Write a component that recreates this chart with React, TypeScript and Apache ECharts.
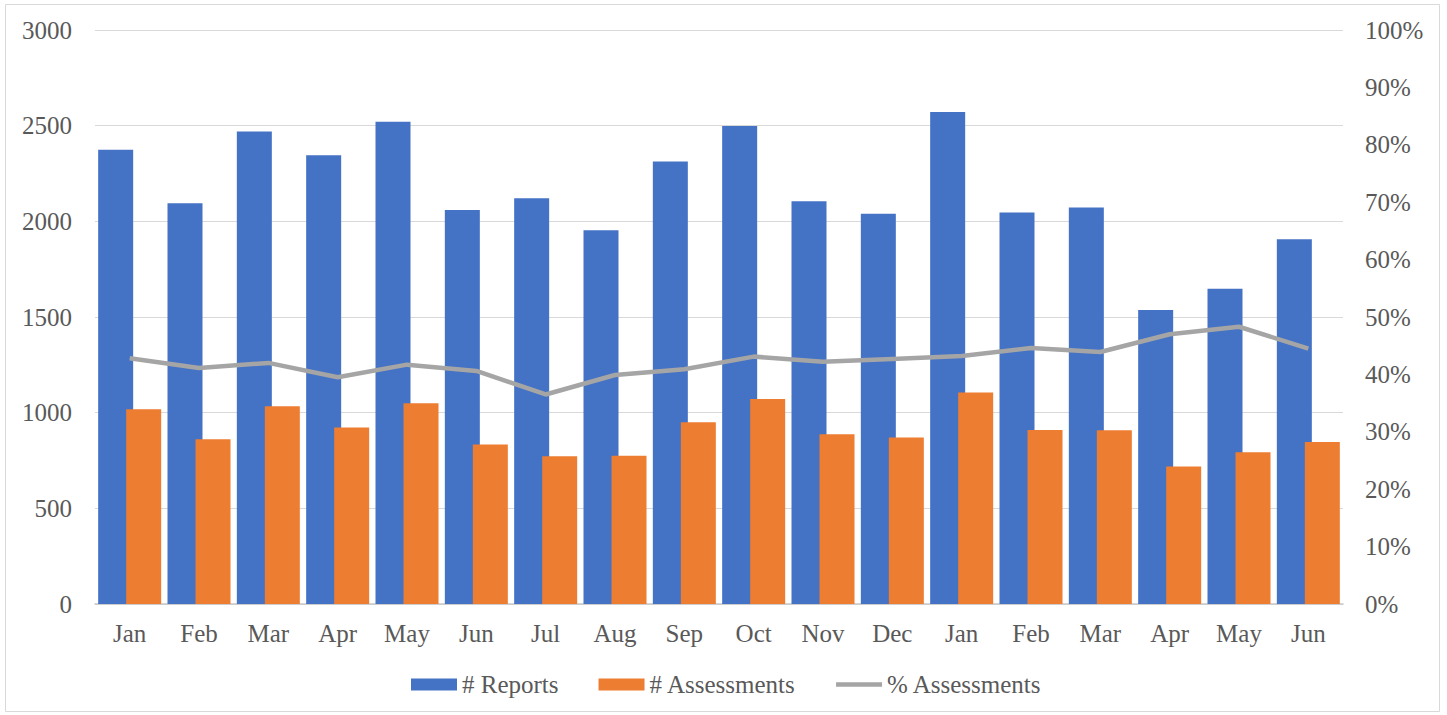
import React, { useEffect, useRef } from "react";
import * as echarts from "echarts";

const months = ["Jan", "Feb", "Mar", "Apr", "May", "Jun", "Jul", "Aug", "Sep", "Oct", "Nov", "Dec", "Jan", "Feb", "Mar", "Apr", "May", "Jun"];
const reports = [2374, 2094, 2470, 2345, 2521, 2059, 2120, 1953, 2313, 2498, 2105, 2039, 2572, 2046, 2072, 1537, 1648, 1906];
const assessments = [1018, 861, 1034, 922, 1049, 833, 772, 775, 950, 1071, 887, 870, 1106, 910, 908, 718, 793, 847];
const pctAssessments = [0.428, 0.411, 0.42, 0.395, 0.417, 0.406, 0.365, 0.399, 0.409, 0.431, 0.422, 0.427, 0.432, 0.446, 0.439, 0.47, 0.483, 0.445];
const leftTicks = { min: 0, max: 3000, interval: 500 };
const rightTicks = { min: 0, max: 1, interval: 0.1 };

const FONT = "Liberation Serif";
const LABEL_COLOR = "#595959";
const FS = 25;

export default function App() {
  const ref = useRef<HTMLDivElement>(null);
  useEffect(() => {
    if (!ref.current) return;
    const chart = echarts.init(ref.current, undefined, { renderer: "svg" });
    chart.setOption({
      animation: false,
      backgroundColor: "#ffffff",
      textStyle: { fontFamily: FONT, color: LABEL_COLOR },
      grid: { left: 95, right: 104, top: 30, bottom: 111, containLabel: false },
      graphic: [
        {
          type: "rect",
          shape: { x: 5.5, y: 4.5, width: 1434, height: 707 },
          style: { fill: "none", stroke: "#d9d9d9", lineWidth: 1 },
          silent: true,
        },
      ],
      legend: {
        top: 672,
        left: 411,
        padding: 0,
        itemWidth: 46,
        itemHeight: 12,
        itemGap: 40,
        textStyle: { fontFamily: FONT, fontSize: FS, color: LABEL_COLOR },
        data: [
          { name: "# Reports", icon: "rect" },
          { name: "# Assessments", icon: "rect" },
          { name: "% Assessments", icon: "path://M0,0 L46,0 L46,4.5 L0,4.5 Z" },
        ],
      },
      xAxis: {
        type: "category",
        data: months,
        axisTick: { show: false },
        axisLine: { show: true, lineStyle: { color: "#c8c8c8", width: 1.5 } },
        axisLabel: { fontFamily: FONT, fontSize: FS, color: LABEL_COLOR, margin: 17, interval: 0 },
      },
      yAxis: [
        {
          type: "value",
          min: leftTicks.min,
          max: leftTicks.max,
          interval: leftTicks.interval,
          axisLine: { show: false },
          axisTick: { show: false },
          splitLine: { show: true, lineStyle: { color: "#d9d9d9", width: 1 } },
          axisLabel: {
            fontFamily: FONT,
            fontSize: FS,
            color: LABEL_COLOR,
            margin: 23,
            formatter: (v: number) => String(v),
          },
        },
        {
          type: "value",
          min: rightTicks.min,
          max: rightTicks.max,
          interval: rightTicks.interval,
          position: "right",
          axisLine: { show: false },
          axisTick: { show: false },
          splitLine: { show: false },
          axisLabel: {
            fontFamily: FONT,
            fontSize: FS,
            color: LABEL_COLOR,
            margin: 22,
            formatter: (v: number) => `${Math.round(v * 100)}%`,
          },
        },
      ],
      series: [
        {
          name: "# Reports",
          type: "bar",
          data: reports,
          barWidth: 35,
          barGap: "-20%",
          itemStyle: { color: "#4472C4" },
          yAxisIndex: 0,
        },
        {
          name: "# Assessments",
          type: "bar",
          data: assessments,
          barWidth: 35,
          barGap: "-20%",
          itemStyle: { color: "#ED7D31" },
          yAxisIndex: 0,
        },
        {
          name: "% Assessments",
          type: "line",
          data: pctAssessments,
          yAxisIndex: 1,
          symbol: "none",
          lineStyle: { color: "#A5A5A5", width: 4.5 },
          itemStyle: { color: "#A5A5A5" },
          z: 5,
        },
      ],
    });
    return () => chart.dispose();
  }, []);
  return (
    <div
      ref={ref}
      style={{ position: "absolute", left: 0, top: 0, width: 1447, height: 715 }}
    />
  );
}
